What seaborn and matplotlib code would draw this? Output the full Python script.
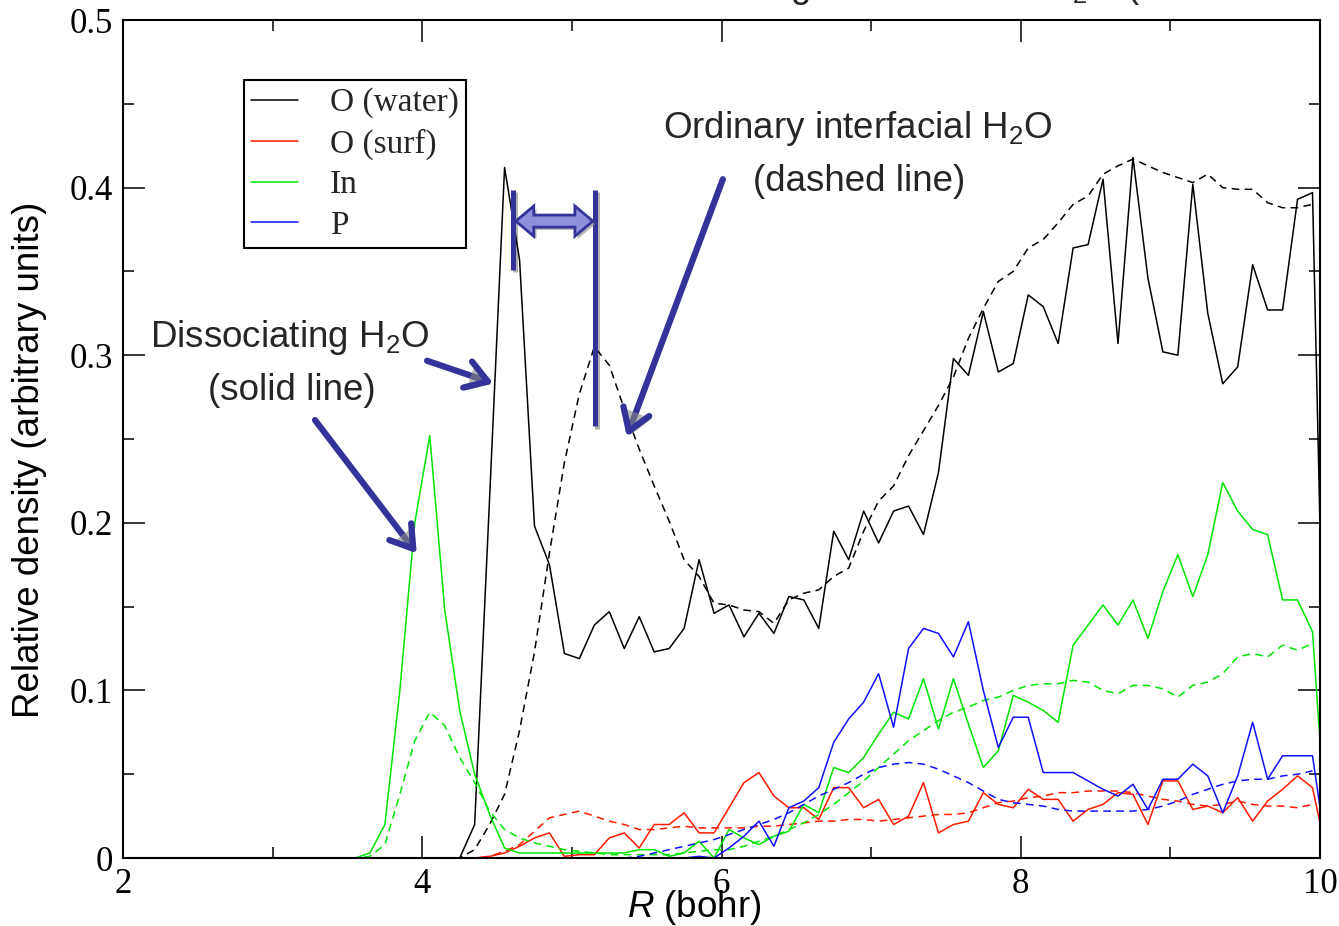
import numpy as np
import pandas as pd
import matplotlib
matplotlib.use("Agg")
import matplotlib.pyplot as plt
import matplotlib.patches as mpatches
import matplotlib.patheffects as pe
from matplotlib.lines import Line2D
from matplotlib.ticker import MultipleLocator, FuncFormatter
import seaborn as sns

# bin centres along R (bohr), 2.05 ... 10.05
R = np.round(np.arange(2.05, 10.1, 0.1), 2)

# solid lines: dissociating H2O
o_water_solid = [
    0, 0, 0, 0, 0, 0, 0, 0, 0, 0,
    0, 0, 0, 0, 0, 0, 0, 0, 0, 0,
    0, 0, 0, 0.02, 0.215, 0.412, 0.357, 0.198, 0.175, 0.122,
    0.119, 0.139, 0.147, 0.125, 0.144, 0.123, 0.125, 0.137, 0.178, 0.146,
    0.151, 0.132, 0.146, 0.134, 0.156, 0.154, 0.137, 0.195, 0.178, 0.207,
    0.188, 0.207, 0.21, 0.193, 0.23, 0.298, 0.288, 0.326, 0.29, 0.295,
    0.336, 0.329, 0.307, 0.364, 0.366, 0.405, 0.307, 0.418, 0.346, 0.302,
    0.3, 0.402, 0.325, 0.283, 0.293, 0.354, 0.327, 0.327, 0.393, 0.397,
    0.0,
]
o_surf_solid = [
    0, 0, 0, 0, 0, 0, 0, 0, 0, 0,
    0, 0, 0, 0, 0, 0, 0, 0, 0, 0,
    0, 0, 0, 0, 0.001, 0.003, 0.007, 0.012, 0.015, 0.001,
    0.002, 0.002, 0.012, 0.015, 0.006, 0.02, 0.02, 0.027, 0.015, 0.015,
    0.03, 0.045, 0.051, 0.037, 0.03, 0.03, 0.023, 0.042, 0.042, 0.03,
    0.035, 0.02, 0.025, 0.045, 0.015, 0.02, 0.022, 0.039, 0.032, 0.03,
    0.041, 0.035, 0.035, 0.022, 0.029, 0.032, 0.039, 0.038, 0.02, 0.046,
    0.046, 0.029, 0.031, 0.027, 0.036, 0.022, 0.034, 0.041, 0.049, 0.042,
    0.0,
]
in_solid = [
    0, 0, 0, 0, 0, 0, 0, 0, 0, 0,
    0, 0, 0, 0, 0, 0, 0.003, 0.02, 0.1, 0.2,
    0.252, 0.148, 0.088, 0.05, 0.026, 0.006, 0.003, 0.003, 0.003, 0.003,
    0.003, 0.003, 0.003, 0.003, 0.005, 0.005, 0.001, 0.003, 0.01, 0.0,
    0.017, 0.012, 0.008, 0.013, 0.016, 0.032, 0.027, 0.054, 0.051, 0.06,
    0.074, 0.087, 0.083, 0.107, 0.077, 0.107, 0.08, 0.054, 0.064, 0.097,
    0.093, 0.088, 0.081, 0.127, 0.139, 0.151, 0.139, 0.154, 0.131, 0.159,
    0.181, 0.156, 0.181, 0.224, 0.207, 0.196, 0.193, 0.154, 0.154, 0.135,
    0.005,
]
p_solid = [
    0, 0, 0, 0, 0, 0, 0, 0, 0, 0,
    0, 0, 0, 0, 0, 0, 0, 0, 0, 0,
    0, 0, 0, 0, 0, 0, 0, 0, 0, 0,
    0, 0, 0, 0, 0, 0, 0, 0, 0.001, 0.0,
    0.006, 0.013, 0.022, 0.007, 0.03, 0.034, 0.042, 0.069, 0.083, 0.093,
    0.11, 0.078, 0.125, 0.137, 0.134, 0.12, 0.141, 0.1, 0.066, 0.084,
    0.084, 0.051, 0.051, 0.051, 0.046, 0.041, 0.037, 0.044, 0.029, 0.047,
    0.047, 0.056, 0.049, 0.027, 0.049, 0.081, 0.047, 0.061, 0.061, 0.061,
    0.0,
]

# dashed lines: ordinary interfacial H2O
o_water_dashed = [
    0, 0, 0, 0, 0, 0, 0, 0, 0, 0,
    0, 0, 0, 0, 0, 0, 0, 0, 0, 0,
    0, 0, 0, 0.005, 0.02, 0.038, 0.076, 0.123, 0.182, 0.236,
    0.277, 0.305, 0.294, 0.268, 0.244, 0.222, 0.201, 0.178, 0.168, 0.152,
    0.151, 0.148, 0.147, 0.14, 0.154, 0.158, 0.16, 0.168, 0.173, 0.195,
    0.213, 0.222, 0.24, 0.255, 0.27, 0.287, 0.31, 0.328, 0.344, 0.35,
    0.364, 0.369, 0.379, 0.39, 0.395, 0.408, 0.413, 0.417, 0.413, 0.409,
    0.406, 0.403, 0.408, 0.4, 0.399, 0.399, 0.391, 0.388, 0.388, 0.39,
    np.nan,
]
o_surf_dashed = [
    0, 0, 0, 0, 0, 0, 0, 0, 0, 0,
    0, 0, 0, 0, 0, 0, 0, 0, 0, 0,
    0, 0, 0, 0, 0.001, 0.004, 0.008, 0.016, 0.024, 0.026,
    0.028, 0.025, 0.022, 0.02, 0.017, 0.017, 0.018, 0.019, 0.018, 0.018,
    0.018, 0.018, 0.019, 0.019, 0.02, 0.021, 0.022, 0.022, 0.023, 0.023,
    0.022, 0.023, 0.024, 0.025, 0.026, 0.026, 0.027, 0.03, 0.033, 0.034,
    0.036, 0.037, 0.039, 0.039, 0.04, 0.04, 0.04, 0.039, 0.037, 0.035,
    0.034, 0.032, 0.031, 0.032, 0.034, 0.032, 0.031, 0.031, 0.03, 0.032,
    np.nan,
]
in_dashed = [
    0, 0, 0, 0, 0, 0, 0, 0, 0, 0,
    0, 0, 0, 0, 0, 0, 0.001, 0.008, 0.038, 0.07,
    0.087, 0.079, 0.06, 0.045, 0.028, 0.017, 0.012, 0.009, 0.007, 0.005,
    0.004, 0.003, 0.002, 0.002, 0.002, 0.002, 0.002, 0.003, 0.004, 0.005,
    0.005, 0.007, 0.01, 0.013, 0.017, 0.021, 0.026, 0.032, 0.039, 0.046,
    0.054, 0.062, 0.07, 0.076, 0.082, 0.087, 0.09, 0.094, 0.096, 0.1,
    0.103, 0.104, 0.104, 0.106, 0.105, 0.1, 0.098, 0.103, 0.103, 0.101,
    0.096, 0.103, 0.105, 0.11, 0.12, 0.122, 0.12, 0.127, 0.124, 0.128,
    np.nan,
]
p_dashed = [
    0, 0, 0, 0, 0, 0, 0, 0, 0, 0,
    0, 0, 0, 0, 0, 0, 0, 0, 0, 0,
    0, 0, 0, 0, 0, 0, 0, 0, 0, 0,
    0, 0, 0, 0, 0.001, 0.003, 0.005, 0.007, 0.009, 0.011,
    0.014, 0.017, 0.02, 0.023, 0.027, 0.032, 0.037, 0.041, 0.045, 0.05,
    0.054, 0.056, 0.057, 0.056, 0.053, 0.049, 0.045, 0.04, 0.035, 0.033,
    0.032, 0.031, 0.029, 0.028, 0.028, 0.028, 0.028, 0.028, 0.029, 0.031,
    0.034, 0.038, 0.041, 0.044, 0.046, 0.047, 0.047, 0.049, 0.05, 0.052,
    np.nan,
]

species = ["O (water)", "O (surf)", "In", "P"]
colors = {"O (water)": "#000000", "O (surf)": "#ff1a00",
          "In": "#00e600", "P": "#1010ff"}

series = [
    ("O (water)", "solid", o_water_solid), ("O (surf)", "solid", o_surf_solid),
    ("In", "solid", in_solid), ("P", "solid", p_solid),
    ("O (water)", "dashed", o_water_dashed), ("O (surf)", "dashed", o_surf_dashed),
    ("In", "dashed", in_dashed), ("P", "dashed", p_dashed),
]
frames = []
for sp, kind, vals in series:
    assert len(vals) == len(R), (sp, kind, len(vals))
    frames.append(pd.DataFrame({"R": R, "density": vals, "species": sp, "kind": kind}))
df = pd.concat(frames, ignore_index=True).dropna()

sns.set_style("ticks")
plt.rcParams["font.family"] = ["Liberation Sans", "DejaVu Sans"]
plt.rcParams["mathtext.fontset"] = "custom"
plt.rcParams["mathtext.rm"] = "Liberation Sans"
plt.rcParams["mathtext.it"] = "Liberation Sans:italic"

fig = plt.figure(figsize=(13.39, 9.26), dpi=100)
ax = fig.add_axes([0.0919, 0.0734, 0.8939, 0.905])

sns.lineplot(data=df, x="R", y="density", hue="species", style="kind",
             hue_order=species, palette=colors,
             dashes={"solid": "", "dashed": (5, 3.5)},
             estimator=None, linewidth=1.1, legend=False, ax=ax)

ax.set_xlim(2, 10)
ax.set_ylim(0, 0.5)
ax.xaxis.set_major_locator(MultipleLocator(2))
ax.xaxis.set_minor_locator(MultipleLocator(1))
ax.yaxis.set_major_locator(MultipleLocator(0.1))
ax.yaxis.set_minor_locator(MultipleLocator(0.05))
fmt = FuncFormatter(lambda v, p: f"{v:g}")
ax.xaxis.set_major_formatter(fmt)
ax.yaxis.set_major_formatter(fmt)
ax.tick_params(which="both", direction="in", top=True, right=True,
               width=1.1, color="black")
ax.tick_params(which="major", length=16, pad=7, labelsize=25,
               labelfontfamily="Liberation Serif", labelcolor="black")
ax.tick_params(which="minor", length=8)
for s in ax.spines.values():
    s.set_linewidth(1.5)
    s.set_color("black")
    s.set_zorder(3)

ax.set_xlabel("$\\it{R}$ (bohr)", fontsize=26.5, color="black")
ax.set_ylabel("Relative density (arbitrary units)", fontsize=26.5, color="black")
ax.xaxis.set_label_coords(0.4775, -0.0355)
ax.yaxis.set_label_coords(-0.0635, 0.475)

# clipped title at the very top of the figure
fig.text(0.331, 1.0032, "Atomic densities along the normal of H$_2$O (In and P surface atoms)",
         fontsize=26.5, ha="left", va="baseline")

handles = [Line2D([], [], color=colors[s], lw=1.1) for s in species]
leg = ax.legend(handles, species, loc="upper left", bbox_to_anchor=(0.101, 0.928),
                borderaxespad=0, prop={"family": "Liberation Serif", "size": 24},
                handlelength=1.4, handletextpad=0.95, labelspacing=0.3,
                borderpad=0.22, fancybox=False, framealpha=1, edgecolor="black")
leg.get_frame().set_linewidth(1.5)

# annotations
navy = "#333399"
shadow = [pe.withSimplePatchShadow(offset=(2, -2), shadow_rgbFace="#888888", alpha=0.6)]
arrow_kw = dict(arrowstyle="->,head_length=0.7,head_width=0.45", lw=4.5, color=navy,
                mutation_scale=22, shrinkA=0, shrinkB=0, path_effects=shadow)
ax.annotate("", xy=(4.475, 0.2832), xytext=(4.032, 0.2967), arrowprops=arrow_kw)
ax.annotate("", xy=(3.963, 0.1818), xytext=(3.283, 0.2613), arrowprops=arrow_kw)
ax.annotate("", xy=(5.367, 0.2514), xytext=(6.009, 0.405), arrowprops=arrow_kw)

ax.text(3.116, 0.305, "Dissociating H$_2$O", fontsize=26.5, ha="center", va="baseline")
ax.text(3.126, 0.2733, "(solid line)", fontsize=26.5, ha="center", va="baseline")
ax.text(6.913, 0.4296, "Ordinary interfacial H$_2$O", fontsize=26.5, ha="center", va="baseline")
ax.text(6.923, 0.3979, "(dashed line)", fontsize=26.5, ha="center", va="baseline")

# peak-separation marker
ax.plot([4.605, 4.605], [0.3508, 0.3986], color=navy, lw=3.6, solid_capstyle="butt",
        path_effects=[pe.SimpleLineShadow(offset=(1.5, -1.5), alpha=0.3), pe.Normal()])
ax.plot([5.155, 5.155], [0.2575, 0.3986], color=navy, lw=3.6, solid_capstyle="butt",
        path_effects=[pe.SimpleLineShadow(offset=(1.5, -1.5), alpha=0.3), pe.Normal()])
xa, xb, yc = 4.625, 5.14, 0.380
hl, hw, hs = 0.12, 0.009, 0.0036
pts = [(xa, yc), (xa + hl, yc + hw), (xa + hl, yc + hs), (xb - hl, yc + hs),
       (xb - hl, yc + hw), (xb, yc), (xb - hl, yc - hw), (xb - hl, yc - hs),
       (xa + hl, yc - hs), (xa + hl, yc - hw)]
ax.add_patch(mpatches.Polygon(pts, closed=True, facecolor="#8f8fdc", edgecolor=navy,
                              lw=2, zorder=4, path_effects=shadow))

fig.savefig("out.png", dpi=100)
